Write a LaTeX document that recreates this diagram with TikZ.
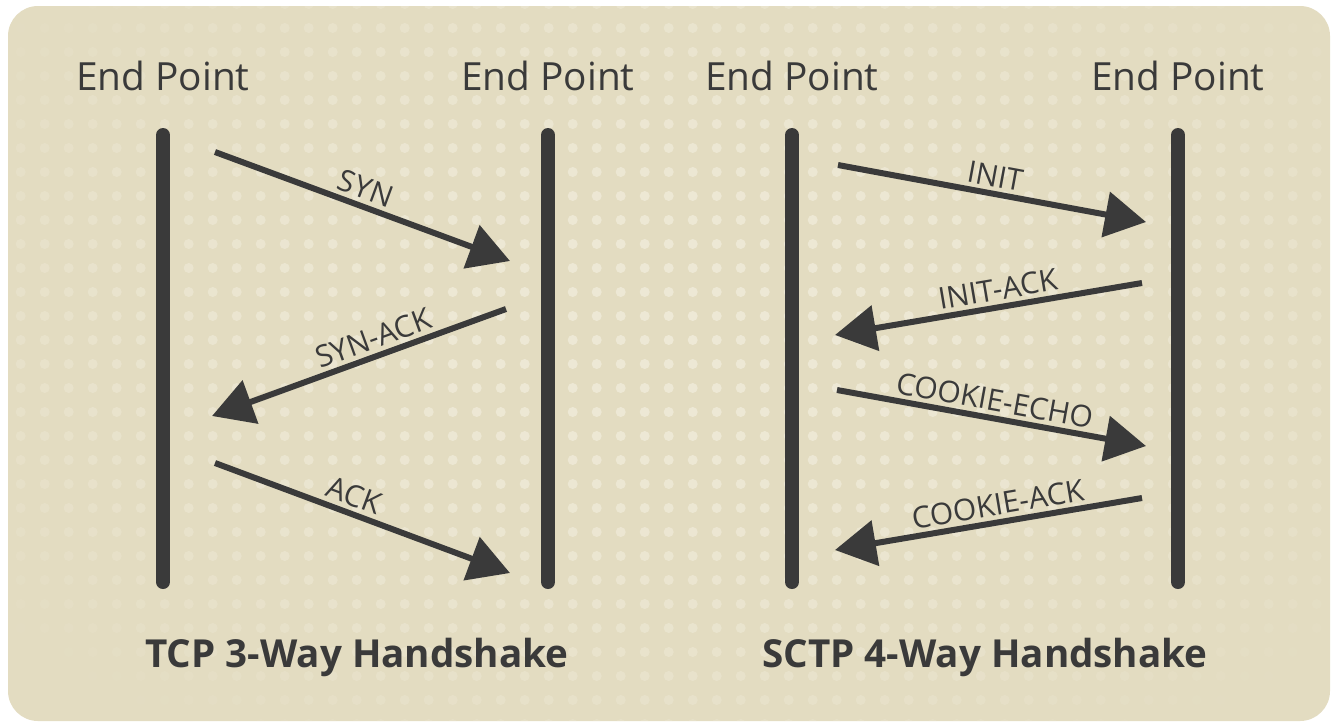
\documentclass[tikz,border=0pt]{standalone}
\usepackage{fontspec}
\setmainfont{Open Sans}
\usetikzlibrary{arrows.meta}
\definecolor{ink}{HTML}{3A3A3A}
\definecolor{panel}{HTML}{E3DCC1}
\definecolor{dotc}{HTML}{EEE9D6}
\tikzset{
  lifeline/.style={ink, line width=7pt, line cap=round},
  msg/.style={ink, line width=3pt, -{Triangle[length=20.5pt,width=22.5pt]}},
  msglabel/.style={text=ink, font=\fontsize{15}{15}\selectfont, sloped, above, inner sep=2pt},
  endpoint/.style={text=ink, font=\fontsize{19.4}{19.4}\selectfont, anchor=base},
  caption/.style={text=ink, font=\fontsize{19.3}{19.3}\selectfont\bfseries, anchor=base},
}
\begin{document}
\begin{tikzpicture}[x=0.5pt, y=-0.5pt]
  \useasboundingbox (0,0) rectangle (1332,724);
  % panel
  \fill[panel, rounded corners=15pt] (8,6) rectangle (1330,721);
  % dotted texture, fading towards the edges
  \begin{scope}
    \clip[rounded corners=15pt] (8,6) rectangle (1330,721);
    \foreach \i in {0,...,55} {
      \foreach \j in {0,...,30} {
        \pgfmathsetmacro\px{20.7+24*\i}
        \pgfmathsetmacro\py{4+24*\j}
        \pgfmathsetmacro\op{max(0,1-0.6*(((\px-680)/680)^2+((\py-330)/380)^2))}
        \fill[dotc, opacity=\op] (\px,\py) circle (2.5pt);
      }
    }
  \end{scope}

  % headings
  \node[endpoint] (e1) at (163,90) {End Point};
  \node[endpoint] (e2) at (548,90) {End Point};
  \node[endpoint] (e3) at (792,90) {End Point};
  \node[endpoint] (e4) at (1178,90) {End Point};

  % lifelines
  \coordinate (a1) at (163,135); \coordinate (a2) at (163,582);
  \coordinate (b1) at (548,135); \coordinate (b2) at (548,582);
  \coordinate (c1) at (792,135); \coordinate (c2) at (792,582);
  \coordinate (d1) at (1178,135); \coordinate (d2) at (1178,582);
  \draw[lifeline] (a1) -- (a2);
  \draw[lifeline] (b1) -- (b2);
  \draw[lifeline] (c1) -- (c2);
  \draw[lifeline] (d1) -- (d2);

  % TCP messages
  \coordinate (syn0) at (215,152);  \coordinate (syn1) at (510,261);
  \coordinate (sa0)  at (506,309);  \coordinate (sa1)  at (212,416);
  \coordinate (ack0) at (215,463);  \coordinate (ack1) at (510,573);
  \draw[msg] (syn0) -- node[msglabel, pos=0.49] {SYN} (syn1);
  \draw[msg] (sa0) -- node[msglabel, pos=0.43] {SYN-ACK} (sa1);
  \draw[msg] (ack0) -- node[msglabel, pos=0.45] {ACK} (ack1);

  % SCTP messages
  \coordinate (in0) at (838,165);  \coordinate (in1) at (1146,222);
  \coordinate (ia0) at (1142,283); \coordinate (ia1) at (835,335);
  \coordinate (ce0) at (837,390);  \coordinate (ce1) at (1146,446);
  \coordinate (ca0) at (1142,498); \coordinate (ca1) at (835,550);
  \draw[msg] (in0) -- node[msglabel] {INIT} (in1);
  \draw[msg] (ia0) -- node[msglabel, pos=0.46] {INIT-ACK} (ia1);
  \draw[msg] (ce0) -- node[msglabel, pos=0.5] {COOKIE-ECHO} (ce1);
  \draw[msg] (ca0) -- node[msglabel, pos=0.46] {COOKIE-ACK} (ca1);

  % captions
  \node[caption] (t1) at (357,667) {TCP 3-Way Handshake};
  \node[caption] (t2) at (985,667) {SCTP 4-Way Handshake};
\end{tikzpicture}
\end{document}
